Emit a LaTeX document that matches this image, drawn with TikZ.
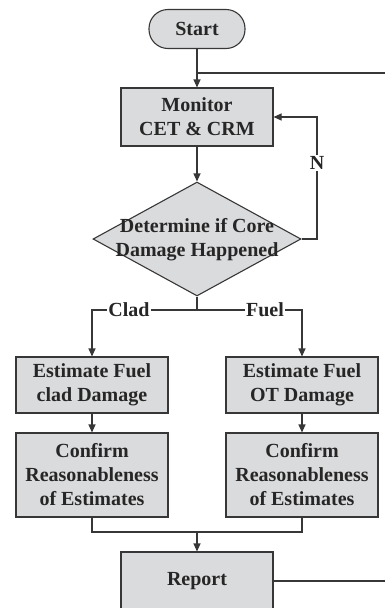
\documentclass[tikz,border=0pt]{standalone}
\usepackage{fontspec}
\setmainfont{Liberation Serif}
\usetikzlibrary{arrows.meta,shapes.geometric}
\definecolor{boxfill}{RGB}{218,219,221}
\definecolor{linec}{RGB}{55,55,55}
\begin{document}
\begin{tikzpicture}[x=1pt,y=-1pt,
  txtfont/.style={font=\bfseries\fontsize{20}{24}\selectfont, text=black!85},
  box/.style={draw=linec, fill=boxfill, line width=1.1pt, minimum width=152pt, align=center, inner sep=0pt, txtfont},
  dia/.style={draw=linec, fill=boxfill, line width=1.1pt, shape=diamond, inner sep=0pt, minimum width=208pt, minimum height=114pt},
  conn/.style={draw=linec, line width=1.1pt},
  arr/.style={conn, -{Triangle[length=8pt,width=7pt]}},
  lbl/.style={fill=white, inner sep=1pt, txtfont}]
\useasboundingbox (0,0) rectangle (385,608);
\clip (0,0) rectangle (385,608);

\node[box, rounded corners=19pt, minimum width=96pt, minimum height=39pt] (start) at (197,29) {Start};
\node[box, minimum height=58pt] (monitor) at (197,117) {Monitor\\CET \& CRM};
\node[dia] (det) at (197,239) {};
\node[txtfont, align=center] (dettxt) at (197,240) {Determine if Core\\Damage Happened};
\node[box, minimum height=56pt] (estL) at (92,385) {Estimate Fuel\\clad Damage};
\node[box, minimum height=56pt] (estR) at (302,385) {Estimate Fuel\\OT Damage};
\node[box, minimum height=84pt] (confL) at (92,475) {Confirm\\Reasonableness\\of Estimates};
\node[box, minimum height=84pt] (confR) at (302,475) {Confirm\\Reasonableness\\of Estimates};
\node[box, minimum height=58pt] (report) at (197,581) {Report};

\coordinate (topin) at (385,73);
\coordinate (topj) at (197,73);
\coordinate (loopc) at (317,239);
\coordinate (loopt) at (317,117);
\coordinate (split) at (197,310);
\coordinate (splitL) at (92,310);
\coordinate (splitR) at (302,310);
\coordinate (joinL) at (92,532);
\coordinate (joinR) at (302,532);
\coordinate (join) at (197,532);
\coordinate (repout) at (385,581);

\draw[arr] (start.south) -- (monitor.north);
\draw[conn] (topin) -- (topj);
\draw[arr] (monitor.south) -- (det.north);
\draw[arr] (det.east) -- (loopc) -- (loopt) -- (monitor.east);
\node[lbl] (nlab) at (317,163) {N};
\draw[conn] (det.south) -- (split);
\draw[arr] (split) -- (splitL) -- (estL.north);
\draw[arr] (split) -- (splitR) -- (estR.north);
\node[lbl] (clad) at (129,310) {Clad};
\node[lbl] (fuel) at (265,310) {Fuel};
\draw[arr] (estL) -- (confL);
\draw[arr] (estR) -- (confR);
\draw[conn] (confL.south) -- (joinL) -- (joinR) -- (confR.south);
\draw[arr] (join) -- (report.north);
\draw[conn] (report.east) -- (repout);
\end{tikzpicture}
\end{document}
